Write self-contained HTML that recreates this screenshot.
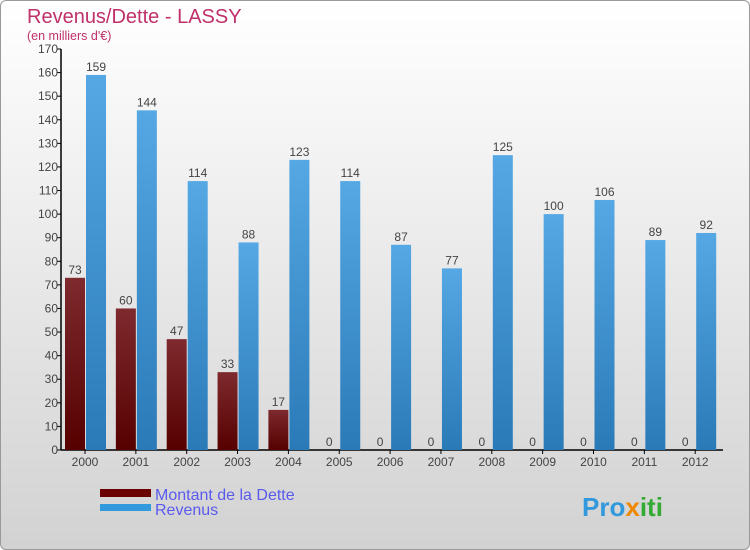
<!DOCTYPE html>
<html><head><meta charset="utf-8"><style>
body{margin:0;width:750px;height:550px;overflow:hidden;font-family:"Liberation Sans",sans-serif}
#wrap{position:absolute;left:0;top:0;width:748px;height:548px;border:1px solid #999;border-radius:6px;background:linear-gradient(#ffffff,#d2d2d2)}
</style></head><body>
<div id="wrap"></div>
<svg id="chart" width="750" height="550" style="position:absolute;left:0;top:0">
<defs>
<linearGradient id="gd" x1="0" y1="0" x2="0" y2="1"><stop offset="0" stop-color="#7e2a2e"/><stop offset="1" stop-color="#560000"/></linearGradient>
<linearGradient id="gr" x1="0" y1="0" x2="0" y2="1"><stop offset="0" stop-color="#55a8e4"/><stop offset="1" stop-color="#2a7ab8"/></linearGradient>
</defs>
<text x="27" y="23" font-size="20" fill="#c0306a">Revenus/Dette - LASSY</text>
<text x="27" y="40" font-size="12.5" fill="#c0306a">(en milliers d'€)</text>
<g id="axes"></g><g id="bars"></g>
<rect x="100" y="489" width="51" height="8" fill="#6a0000"/>
<rect x="100" y="504" width="51" height="7" fill="#3399dd"/>
<text x="155" y="500" font-size="16" fill="#5a5aee">Montant de la Dette</text>
<text x="155" y="515" font-size="16" fill="#5a5aee">Revenus</text>
<text x="582" y="516" font-size="26" font-weight="bold" fill="#3399dd">Pro<tspan fill="#ee8800">x</tspan><tspan fill="#33aa33">iti</tspan></text>
</svg>
<script>
const years=["2000","2001","2002","2003","2004","2005","2006","2007","2008","2009","2010","2011","2012"];
const dette=[73,60,47,33,17,0,0,0,0,0,0,0,0];
const revenus=[159,144,114,88,123,114,87,77,125,100,106,89,92];
const yTicks=[0,10,20,30,40,50,60,70,80,90,100,110,120,130,140,150,160,170];
const NS="http://www.w3.org/2000/svg";
const y0=450,yTop=49,yMax=170,x0=61,x1=723,step=50.85,c0=85;
function yS(v){return y0-(v/yMax)*(y0-yTop);}
function xC(i){return c0+i*step;}
function mk(t,a,p){const e=document.createElementNS(NS,t);for(const k in a)e.setAttribute(k,a[k]);p.appendChild(e);return e;}
const ax=document.getElementById('axes'),bg=document.getElementById('bars');
let l=mk('line',{x1:x0,y1:yTop,x2:x0,y2:y0,stroke:'#000','stroke-width':1.5},ax);


l=mk('line',{x1:x0,y1:y0,x2:x1,y2:y0,stroke:'#000','stroke-width':1.5},ax);


yTicks.forEach(v=>{const y=yS(v);
 mk('line',{x1:x0-4,y1:y,x2:x0,y2:y,stroke:'#000'},ax);
 const t=mk('text',{x:x0-3,y:y+4,'text-anchor':'end','font-size':12,fill:'#444'},ax);t.textContent=v;
 
 });
years.forEach((yr,i)=>{const c=xC(i);
 mk('line',{x1:c,y1:y0,x2:c,y2:y0+4,stroke:'#000'},ax);
 const t=mk('text',{x:c,y:y0+16,'text-anchor':'middle','font-size':12,fill:'#444'},ax);t.textContent=yr;
 
 
 const d=dette[i],r=revenus[i];
 if(d>0){const b=mk('rect',{x:c-20,y:yS(d),width:20,height:y0-yS(d),fill:'url(#gd)'},bg);
  
  }
 const b2=mk('rect',{x:c+1,y:yS(r),width:20,height:y0-yS(r),fill:'url(#gr)'},bg);
 
 
 let tl=mk('text',{x:c-10,y:yS(d)-4,'text-anchor':'middle','font-size':12,fill:'#444'},bg);tl.textContent=d;
 
 
 tl=mk('text',{x:c+11,y:yS(r)-4,'text-anchor':'middle','font-size':12,fill:'#444'},bg);tl.textContent=r;
 
 
});
</script>
</body></html>
